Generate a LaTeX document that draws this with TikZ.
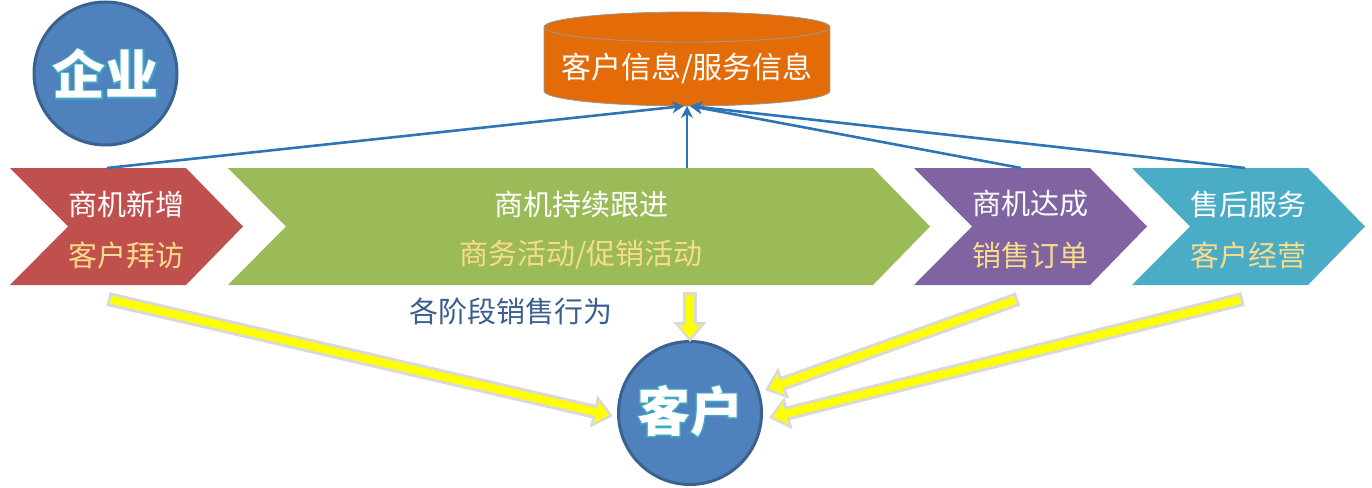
\documentclass[tikz,border=0pt]{standalone}
\usepackage{fontspec}
\setmainfont{Noto Sans CJK SC}
\newfontfamily\cjk{Noto Sans CJK SC}
\newfontfamily\cjkglow[FakeBold=5]{Noto Sans CJK SC}
\usetikzlibrary{arrows.meta,calc}
\definecolor{cred}{HTML}{C0504D}
\definecolor{cgreen}{HTML}{9BBB59}
\definecolor{cpurple}{HTML}{8064A2}
\definecolor{cteal}{HTML}{4BACC6}
\definecolor{corange}{HTML}{E36C09}
\definecolor{cfill}{HTML}{4F81BD}
\definecolor{cborder}{HTML}{3A6190}
\definecolor{cglow}{HTML}{3FA9C4}
\definecolor{cline}{HTML}{2E75B6}
\definecolor{cgold}{HTML}{F9DC8A}
\definecolor{clabel}{HTML}{3B5E91}
\definecolor{ygray}{HTML}{D9D9D9}
\definecolor{yfill}{HTML}{FFFF00}
\newcommand\mychev[3]{\fill[#3] (#1,168) -- (#2,168) -- ({#2+57},226.5) -- (#2,285) -- (#1,285) -- ({#1+58},226.5) -- cycle;}
\newcommand\myyarrow[2]{%
  \draw[line width=14pt,draw=ygray,-{Triangle[length=20pt,width=32pt]}] (#1) -- (#2);
  \draw[line width=8pt,draw=yfill,-{Triangle[length=13pt,width=21pt]},shorten >=4pt,shorten <=3pt] (#1) -- (#2);}
\newcommand\myglow[1]{\rlap{\cjkglow\bfseries\color{cglow}#1}{\cjk\bfseries\color{white}#1}}
\tikzset{
  bigcirc/.style={circle,fill=cfill,draw=cborder,line width=3pt,minimum size=143pt,inner sep=0pt},
  bigtxt/.style={font=\fontsize{53}{57}\selectfont,text=white},
  toptxt/.style={font=\cjk\fontsize{29}{33}\selectfont,text=white,inner sep=0pt},
  subtxt/.style={font=\cjk\fontsize{29}{33}\selectfont,text=cgold,inner sep=0pt},
  conn/.style={draw=cline,line width=2.6pt,-{Stealth[length=12pt,width=12pt]}},
}
\begin{document}
\begin{tikzpicture}[x=1pt,y=-1pt]
\useasboundingbox (0,0) rectangle (1372,487);
% chevrons
\mychev{10}{186}{cred}
\mychev{228}{873}{cgreen}
\mychev{914}{1090}{cpurple}
\mychev{1132}{1308}{cteal}
\node[toptxt] (r1) at (126,204) {商机新增};
\node[subtxt] (r2) at (126,255) {客户拜访};
\node[toptxt] (g1) at (581,204) {商机持续跟进};
\node[subtxt] (g2) at (581,255) {商务活动/促销活动};
\node[toptxt] (p1) at (1030,204) {商机达成};
\node[subtxt] (p2) at (1030,255) {销售订单};
\node[toptxt] (b1) at (1248,204) {售后服务};
\node[subtxt] (b2) at (1248,255) {客户经营};
% cylinder
\fill[corange] (544,27) rectangle (830,91);
\fill[corange] (687,91) ellipse[x radius=143,y radius=15];
\draw[gray!80,line width=0.8pt] (544,27) -- (544,91) arc[start angle=180,end angle=0,x radius=143,y radius=15] -- (830,27);
\filldraw[fill=corange,draw=gray!80,line width=0.8pt] (687,27) ellipse[x radius=143,y radius=15];
\node[font=\cjk\fontsize{30}{34}\selectfont,text=white] (db) at (687,68) {客户信息/服务信息};
\coordinate (dbl) at (684,106);
\coordinate (dbc) at (687,106);
\coordinate (dbr) at (690,106);
% connector anchors
\coordinate (rt) at (107,168);
\coordinate (gt) at (687,168);
\coordinate (pt) at (1021,168);
\coordinate (bt) at (1245,168);
\draw[conn] (rt) -- (dbl);
\draw[conn] (gt) -- (dbc);
\draw[conn] (pt) -- (dbr);
\draw[conn] (bt) -- (dbr);
% circles
\node[bigcirc] (qy) at (105.5,73.5) {};
\node[bigtxt] (qyt) at (105.5,73.5) {\myglow{企业}};
\node[bigcirc] (kh) at (690,413) {};
\node[bigtxt] (kht) at (690,411) {\myglow{客户}};
% label
\node[font=\cjk\fontsize{29}{33}\selectfont,text=clabel] (lbl) at (511,311) {各阶段销售行为};
% yellow arrows
\coordinate (s1) at (108,299);
\coordinate (t1) at (613,416);
\coordinate (s2) at (690,292);
\coordinate (t2) at (690,342);
\coordinate (s3) at (1018,299);
\coordinate (t3) at (765,390);
\coordinate (s4) at (1243,299);
\coordinate (t4) at (769,418);
\myyarrow{s1}{t1}
\myyarrow{s2}{t2}
\myyarrow{s3}{t3}
\myyarrow{s4}{t4}
\end{tikzpicture}
\end{document}
